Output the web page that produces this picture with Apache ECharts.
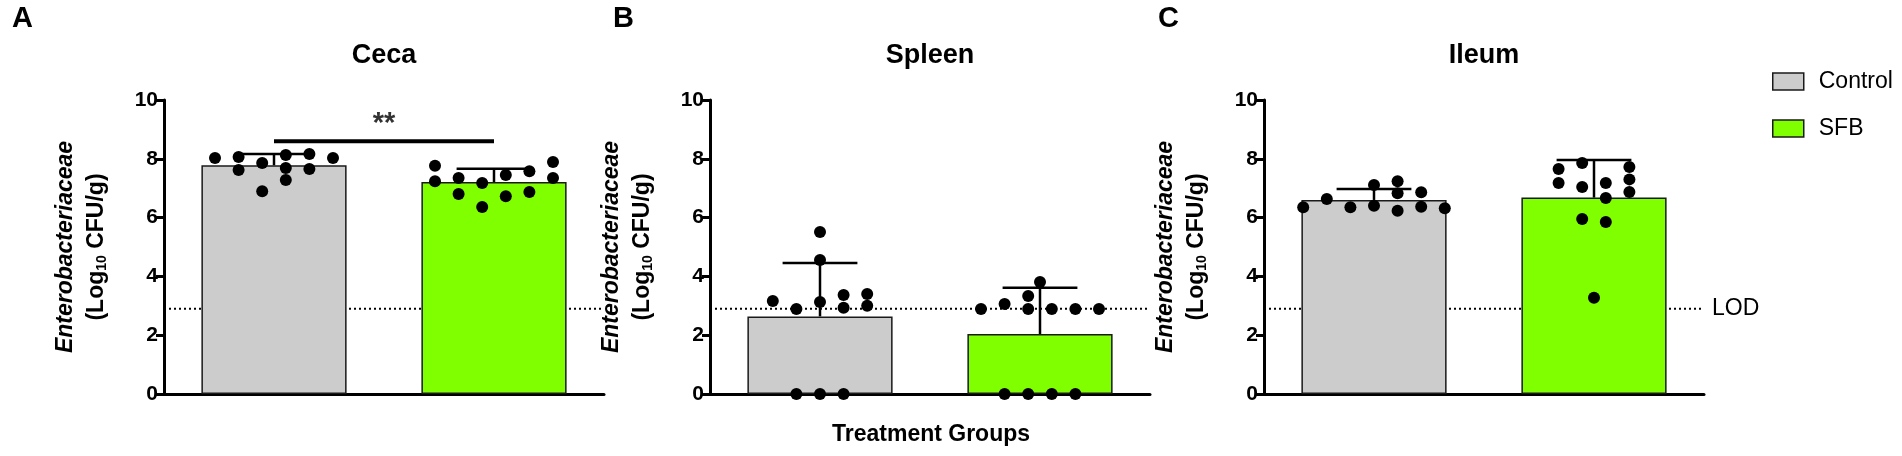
<!DOCTYPE html>
<html>
<head>
<meta charset="utf-8">
<script src="https://cdn.jsdelivr.net/npm/echarts@6/dist/echarts.min.js"></script>
<style>
html, body { margin: 0; padding: 0; background: #fff; }
#chart { width: 1902px; height: 456px; }
</style>
</head>
<body>
<div id="chart"></div>
<script>
var groups = ['Control', 'SFB'];
var panels = ['Ceca', 'Spleen', 'Ileum'];
var letters = ['A', 'B', 'C'];
var lod = 2.9;

// bar height (mean) and top of error bar (mean + SD), Control / SFB
var cecaMean = [7.78, 7.21];
var cecaSdTop = [8.16, 7.66];
var spleenMean = [2.64, 2.04];
var spleenSdTop = [4.46, 3.61];
var ileumMean = [6.60, 6.68];
var ileumSdTop = [6.97, 7.96];

// single animals (log10 CFU/g) and their column in the swarm (half steps)
var cecaControl = [8.03, 8.06, 7.62, 7.86, 6.90, 8.13, 7.69, 7.28, 8.16, 7.65, 8.03];
var cecaControlCol = [-5, -3, -3, -1, -1, 1, 1, 1, 3, 3, 5];
var cecaSfb = [7.76, 7.24, 7.35, 6.80, 7.18, 6.36, 7.45, 6.73, 7.58, 6.87, 7.89, 7.35];
var cecaSfbCol = [-5, -5, -3, -3, -1, -1, 1, 1, 3, 3, 5, 5];

var spleenControl = [3.16, 2.89, 0, 5.51, 4.56, 3.13, 0, 3.37, 2.93, 0, 3.40, 3.00];
var spleenControlCol = [-4, -2, -2, 0, 0, 0, 0, 2, 2, 2, 4, 4];
var spleenSfb = [2.89, 3.06, 0, 3.33, 2.89, 0, 3.81, 2.89, 0, 2.89, 0, 2.89];
var spleenSfbCol = [-5, -3, -3, -1, -1, -1, 0, 1, 1, 3, 3, 5];

var ileumControl = [6.35, 6.63, 6.35, 7.11, 6.40, 7.24, 6.83, 6.23, 6.86, 6.37, 6.32];
var ileumControlCol = [-6, -4, -2, 0, 0, 2, 2, 2, 4, 4, 6];
var ileumSfb = [7.65, 7.18, 7.86, 7.04, 5.95, 3.27, 7.18, 6.67, 5.85, 7.72, 7.30, 6.87];
var ileumSfbCol = [-3, -3, -1, -1, -1, 0, 1, 1, 1, 3, 3, 3];

// significance bracket in Ceca
var cecaSigLevel = 8.6;
var cecaSigText = '**';

var means = [cecaMean, spleenMean, ileumMean];
var sdTops = [cecaSdTop, spleenSdTop, ileumSdTop];
var dots = [[cecaControl, cecaSfb], [spleenControl, spleenSfb], [ileumControl, ileumSfb]];
var dotCols = [[cecaControlCol, cecaSfbCol], [spleenControlCol, spleenSfbCol], [ileumControlCol, ileumSfbCol]];

var font = 'Liberation Sans, Arial, sans-serif';
var barColors = ['#cccccc', '#80ff00'];
var gridLeft = [164, 710, 1264];
var centers = [384, 930, 1484];
var letterLeft = [12, 613, 1158];
var halfStep = 11.8 / 220; // half a swarm column, in category units

var chart = echarts.init(document.getElementById('chart'));

var grids = [], xAxes = [], yAxes = [], series = [], titles = [];

panels.forEach(function (name, i) {
	grids.push({ left: gridLeft[i], width: 440, top: 100, bottom: 62 });

	xAxes.push({
		gridIndex: i, type: 'category', data: groups,
		axisLine: { onZero: false, lineStyle: { color: '#000', width: 3 } },
		axisTick: { alignWithLabel: true, length: 8, lineStyle: { color: '#000', width: 2.5 } },
		axisLabel: { show: false }
	});
	xAxes.push({ gridIndex: i, type: 'value', min: -0.5, max: 1.5, show: false });

	yAxes.push({
		gridIndex: i, type: 'value', min: 0, max: 10, interval: 2,
		axisLine: { show: true, onZero: false, lineStyle: { color: '#000', width: 3 } },
		axisTick: { show: true, length: 8, lineStyle: { color: '#000', width: 3 } },
		axisLabel: { color: '#000', fontSize: 21, fontWeight: 'bold', fontFamily: font, margin: 6 },
		splitLine: { show: false },
		name: '{i|Enterobacteriaceae}\n{b|(Log}{s|10}{b| CFU/g)}',
		nameLocation: 'middle', nameRotate: 90, nameGap: 52,
		nameTextStyle: {
			color: '#000', fontFamily: font,
			rich: {
				i: { fontFamily: font, fontSize: 23, fontWeight: 'bold', fontStyle: 'italic', lineHeight: 31, color: '#000' },
				b: { fontFamily: font, fontSize: 23, fontWeight: 'bold', lineHeight: 31, color: '#000' },
				s: { fontFamily: font, fontSize: 14, fontWeight: 'bold', lineHeight: 31, padding: [12, 0, 0, 0], color: '#000' }
			}
		}
	});

	// limit of detection, behind the bars
	series.push({
		type: 'line', xAxisIndex: 2 * i + 1, yAxisIndex: i, silent: true, z: 1,
		data: [[-0.5, lod], [1.5, lod]], symbol: 'none',
		lineStyle: { color: '#000', width: 2, type: [2, 3] },
		endLabel: i === 2 ? { show: true, formatter: 'LOD', color: '#000', fontSize: 23, fontFamily: font, distance: 8 } : { show: false }
	});

	groups.forEach(function (g, k) {
		var d = ['-', '-'];
		d[k] = means[i][k];
		series.push({
			type: 'bar', name: g, xAxisIndex: 2 * i, yAxisIndex: i, silent: true, z: 3,
			data: d, barWidth: '66%', barGap: '-100%',
			itemStyle: { color: barColors[k], borderColor: '#1a1a1a', borderWidth: 1.5 }
		});
	});

	// mean + SD
	series.push({
		type: 'custom', xAxisIndex: 2 * i, yAxisIndex: i, silent: true, z: 4,
		data: groups.map(function (g, k) { return [k, means[i][k], sdTops[i][k]]; }),
		encode: { x: 0, y: [1, 2] },
		renderItem: function (params, api) {
			var base = api.coord([api.value(0), api.value(1)]);
			var top = api.coord([api.value(0), api.value(2)]);
			var half = api.size([1, 0])[0] * 0.17;
			var st = { stroke: '#000', lineWidth: 2.5 };
			return {
				type: 'group',
				children: [
					{ type: 'line', shape: { x1: top[0], y1: base[1], x2: top[0], y2: top[1] }, style: st },
					{ type: 'line', shape: { x1: top[0] - half, y1: top[1], x2: top[0] + half, y2: top[1] }, style: st }
				]
			};
		}
	});

	groups.forEach(function (g, k) {
		series.push({
			type: 'scatter', xAxisIndex: 2 * i + 1, yAxisIndex: i, silent: true, z: 5,
			symbolSize: 12, itemStyle: { color: '#000', opacity: 1 },
			data: dots[i][k].map(function (v, n) { return [k + dotCols[i][k][n] * halfStep, v]; })
		});
	});

	titles.push({
		text: letters[i], left: letterLeft[i], top: 4, padding: 0,
		textStyle: { fontSize: 29, fontWeight: 'bold', color: '#000', fontFamily: font }
	});
	titles.push({
		text: name, left: centers[i], top: 42, padding: 0, textAlign: 'center',
		textStyle: { fontSize: 27, fontWeight: 'bold', color: '#000', fontFamily: font }
	});
});

// significance bracket
series.push({
	type: 'line', xAxisIndex: 1, yAxisIndex: 0, silent: true, z: 4,
	data: [[0, cecaSigLevel], [1, cecaSigLevel]], symbol: 'none',
	lineStyle: { color: '#000', width: 4 }
});
series.push({
	type: 'scatter', xAxisIndex: 1, yAxisIndex: 0, silent: true, z: 4,
	symbolSize: 1, itemStyle: { color: 'rgba(0,0,0,0)' },
	data: [[0.5, cecaSigLevel]],
	label: { show: true, position: 'top', distance: 2, formatter: cecaSigText, color: '#000', fontSize: 29, fontWeight: 'bold', fontFamily: font }
});

titles.push({
	text: 'Treatment Groups', left: 931, top: 423, padding: 0, textAlign: 'center',
	textStyle: { fontSize: 23, fontWeight: 'bold', color: '#000', fontFamily: font }
});

chart.setOption({
	animation: false,
	title: titles,
	legend: {
		orient: 'vertical', left: 1772, top: 70, padding: 0, itemWidth: 31, itemHeight: 17, itemGap: 24,
		icon: 'rect', selectedMode: false, data: groups,
		itemStyle: { borderColor: '#1a1a1a', borderWidth: 1.5 },
		textStyle: { color: '#000', fontSize: 23, fontFamily: font, padding: [0, 0, 0, 10] }
	},
	grid: grids,
	xAxis: xAxes,
	yAxis: yAxes,
	series: series
});
</script>
</body>
</html>
